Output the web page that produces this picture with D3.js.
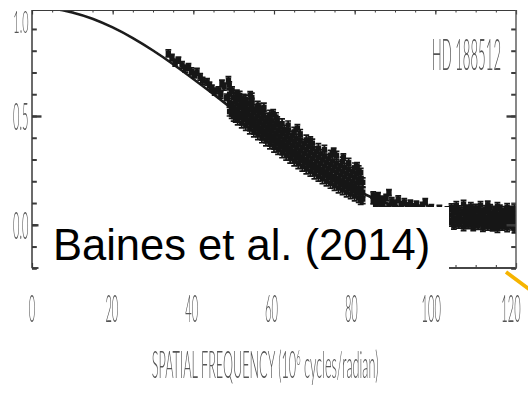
<!DOCTYPE html>
<html>
<head>
<meta charset="utf-8">
<script src="https://cdn.jsdelivr.net/npm/d3@7"></script>
<style>
  html, body { margin: 0; padding: 0; background: #fff; }
  svg { display: block; }
</style>
</head>
<body>
<svg id="chart" width="528" height="399"></svg>
<script>
// Uniform-disk fit: squared visibility every 5 x 10^6 cycles/radian
const modelFreq = [0, 5, 10, 15, 20, 25, 30, 35, 40, 45, 50, 55, 60, 65, 70, 75, 80, 85, 90, 95, 100, 105, 110, 115, 120];
const modelVis2 = [1.000, 0.994, 0.976, 0.947, 0.907, 0.858, 0.801, 0.738, 0.670, 0.600, 0.528, 0.457, 0.389, 0.324, 0.264, 0.210, 0.162, 0.120, 0.086, 0.058, 0.037, 0.021, 0.010, 0.003, 0.000];

// Isolated measurements: [spatial frequency, V^2, error]
const sparsePoints = [
  [33.8,0.788,0.016],[34.7,0.768,0.015],[35.5,0.745,0.016],[36.3,0.757,0.014],[37.2,0.735,0.015],
  [38.0,0.718,0.016],[38.8,0.726,0.015],[39.5,0.705,0.016],[40.3,0.690,0.015],[40.9,0.703,0.016],
  [41.7,0.680,0.015],[42.3,0.662,0.016],[43.4,0.657,0.015],[44.0,0.640,0.016],[44.6,0.627,0.015],
  [45.3,0.612,0.016],[46.2,0.619,0.015],[46.8,0.598,0.016],[47.1,0.650,0.015],[47.6,0.635,0.016],
  [48.2,0.586,0.015],[48.7,0.665,0.016],[48.9,0.642,0.015],[49.6,0.618,0.016],[50.8,0.604,0.015],
  [51.6,0.581,0.016],[52.4,0.558,0.015],[54.1,0.596,0.016],[54.5,0.566,0.015],[56.2,0.542,0.016],
  [57.0,0.528,0.015],[59.8,0.513,0.016],[60.8,0.481,0.015],[65.8,0.444,0.016],[69.0,0.389,0.015],
  [74.8,0.336,0.016],[77.2,0.311,0.015],[80.6,0.270,0.016]
];

// Densely sampled baselines: [spatial frequency, error, V^2 values]
const densePoints = [
  [49.0,0.020,[0.520,0.561,0.600]],
  [49.5,0.019,[0.508,0.548]],
  [50.0,0.021,[0.497,0.541,0.585]],
  [50.5,0.020,[0.492,0.530,0.566]],
  [51.0,0.021,[0.480,0.527,0.575]],
  [51.5,0.019,[0.502,0.548,0.594]],
  [52.0,0.022,[0.467,0.512,0.556]],
  [52.5,0.020,[0.483,0.530,0.579]],
  [53.0,0.021,[0.455,0.497,0.540,0.575]],
  [53.5,0.019,[0.470,0.516,0.560]],
  [54.0,0.022,[0.440,0.482,0.528]],
  [54.5,0.020,[0.458,0.503,0.549,0.585]],
  [55.0,0.021,[0.425,0.468,0.515]],
  [55.5,0.019,[0.441,0.487,0.533]],
  [56.0,0.022,[0.413,0.455,0.500,0.545]],
  [56.5,0.020,[0.430,0.474,0.520]],
  [57.0,0.021,[0.398,0.440,0.488]],
  [57.5,0.019,[0.414,0.459,0.505,0.540]],
  [58.0,0.022,[0.385,0.428,0.472]],
  [58.5,0.020,[0.401,0.447,0.492]],
  [59.0,0.021,[0.370,0.413,0.458,0.505]],
  [59.5,0.019,[0.388,0.432,0.478]],
  [60.0,0.022,[0.356,0.401,0.447]],
  [60.5,0.020,[0.372,0.418,0.462,0.495]],
  [61.0,0.021,[0.345,0.388,0.433]],
  [61.5,0.019,[0.361,0.405,0.452]],
  [62.0,0.022,[0.330,0.374,0.420,0.465]],
  [62.5,0.020,[0.348,0.392,0.437]],
  [63.0,0.021,[0.318,0.360,0.405]],
  [63.5,0.019,[0.335,0.380,0.424,0.458]],
  [64.0,0.022,[0.305,0.348,0.393]],
  [64.5,0.020,[0.322,0.366,0.410]],
  [65.0,0.021,[0.292,0.335,0.380,0.427]],
  [65.5,0.019,[0.310,0.354,0.398]],
  [66.0,0.022,[0.280,0.323,0.368]],
  [66.5,0.020,[0.296,0.340,0.385,0.418]],
  [67.0,0.021,[0.268,0.310,0.356]],
  [67.5,0.019,[0.285,0.328,0.373]],
  [68.0,0.022,[0.256,0.298,0.344,0.390]],
  [68.5,0.020,[0.272,0.317,0.360]],
  [69.0,0.021,[0.245,0.288,0.332]],
  [69.5,0.019,[0.261,0.305,0.350,0.375]],
  [70.0,0.022,[0.233,0.276,0.320]],
  [70.5,0.020,[0.250,0.293,0.338]],
  [71.0,0.021,[0.222,0.265,0.310,0.352]],
  [71.5,0.019,[0.238,0.282,0.326]],
  [72.0,0.022,[0.211,0.254,0.298]],
  [72.5,0.020,[0.228,0.270,0.315,0.345]],
  [73.0,0.021,[0.200,0.243,0.288]],
  [73.5,0.019,[0.216,0.260,0.303]],
  [74.0,0.022,[0.190,0.232,0.276,0.320]],
  [74.5,0.020,[0.206,0.250,0.293]],
  [75.0,0.021,[0.179,0.222,0.266]],
  [75.5,0.019,[0.196,0.240,0.283,0.318]],
  [76.0,0.022,[0.169,0.212,0.256]],
  [76.5,0.020,[0.185,0.229,0.273]],
  [77.0,0.021,[0.160,0.202,0.246,0.290]],
  [77.5,0.019,[0.176,0.220,0.263]],
  [78.0,0.022,[0.150,0.193,0.236]],
  [78.5,0.020,[0.166,0.210,0.254,0.285]],
  [79.0,0.021,[0.141,0.184,0.228]],
  [79.5,0.019,[0.157,0.200,0.245]],
  [80.0,0.022,[0.132,0.175,0.219,0.262]],
  [80.5,0.020,[0.148,0.192,0.236]],
  [81.0,0.021,[0.124,0.166,0.210,0.250]],
  [81.5,0.019,[0.113,0.158,0.202,0.240]],
  [82.0,0.021,[0.118,0.150,0.195]]
];

// Longer baselines beyond the dense group
const tailPoints = [
  [84.6,0.014,[0.110,0.137]],[85.2,0.015,[0.085,0.122]],[85.8,0.013,[0.100,0.135]],
  [86.5,0.015,[0.078,0.112]],[87.0,0.014,[0.095,0.118]],[87.8,0.015,[0.070,0.125]],
  [88.5,0.014,[0.085,0.148]],[89.2,0.015,[0.065,0.110]],[90.0,0.013,[0.075,0.100]],
  [90.8,0.015,[0.058,0.118]],[91.5,0.014,[0.070,0.092]],[92.3,0.015,[0.050,0.105]],
  [93.0,0.013,[0.062,0.088]],[93.8,0.015,[0.045,0.098]],[94.5,0.014,[0.055,0.082]],
  [95.3,0.015,[0.040,0.094]],[96.0,0.013,[0.050,0.078]],[96.8,0.015,[0.035,0.088]],
  [97.5,0.014,[0.045,0.106]],[98.3,0.015,[0.030,0.072]],[99.0,0.013,[0.040,0.080]],
  [100.0,0.015,[0.028,0.062]],[101.0,0.014,[0.035,0.075]],[102.0,0.015,[0.022,0.058]],
  [103.0,0.014,[0.030,0.068]]
];

const farPoints = [
  [104.0,0.016,[0.010,0.045,0.080]],[104.6,0.015,[-0.005,0.030,0.065]],[105.2,0.017,[0.020,0.055,0.090]],
  [105.8,0.015,[0.000,0.038,0.072]],[106.4,0.016,[0.015,0.050]],[107.0,0.017,[-0.010,0.025,0.062,0.095]],
  [107.6,0.015,[0.008,0.042,0.075]],[108.2,0.016,[-0.002,0.033,0.068]],[108.8,0.017,[0.018,0.052,0.085]],
  [109.4,0.015,[-0.012,0.022,0.058]],[110.0,0.016,[0.005,0.040,0.078]],[110.6,0.015,[-0.006,0.028,0.064]],
  [111.2,0.017,[0.012,0.048,0.090]],[111.8,0.015,[-0.015,0.020,0.055]],[112.4,0.016,[0.002,0.036,0.072]],
  [113.0,0.017,[-0.008,0.025,0.060,0.092]],[113.6,0.015,[0.010,0.045,0.078]],[114.2,0.016,[-0.012,0.018,0.052]],
  [114.8,0.015,[0.000,0.034,0.070]],[115.4,0.017,[-0.018,0.015,0.048,0.085]],[116.0,0.016,[0.006,0.040,0.074]],
  [116.6,0.015,[-0.010,0.022,0.056]],[117.2,0.016,[0.002,0.035,0.068]],[117.8,0.017,[-0.015,0.018,0.052,0.080]],
  [118.4,0.015,[0.004,0.038,0.070]],[119.0,0.016,[-0.008,0.025,0.058]],[119.6,0.017,[-0.020,0.012,0.045,0.075]],
  [120.0,0.015,[0.000,0.032]]
];

const xTickValues = [0, 20, 40, 60, 80, 100, 120];
const xMinorTicks = d3.range(0, 121, 5);
const yLabelValues = [0.0, 0.5, 1.0];
const yMajorTicks = [0.0, 0.5];
const yMinorTicks = [-0.2, -0.1, 0.0, 0.1, 0.2, 0.3, 0.4, 0.5, 0.6, 0.7, 0.8, 0.9];
const starName = "HD 188512";
const xTitleMain = "SPATIAL FREQUENCY (10";
const xTitleExp = "6";
const xTitleUnit = " cycles/radian)";
const citation = "Baines et al. (2014)";

// ---- layout ----
const frame = { left: 32, right: 516, top: 10, bottom: 267.5 };
const x = d3.scaleLinear().domain([0, 120]).range([frame.left, frame.right]);
const xLabelScale = d3.scaleLinear().domain([0, 120]).range([32, 511]);
const y = d3.scaleLinear().domain([-0.2, 1.0]).range([268.3, 7.2]);

const svg = d3.select("#chart");
const defs = svg.append("defs");
defs.append("clipPath").attr("id", "plotArea")
  .append("rect")
  .attr("x", frame.left).attr("y", frame.top)
  .attr("width", frame.right - frame.left).attr("height", frame.bottom - frame.top);
defs.append("filter").attr("id", "soft")
  .attr("x", "-5%").attr("y", "-5%").attr("width", "110%").attr("height", "110%")
  .append("feGaussianBlur").attr("stdDeviation", 0.45);

const fig = svg.append("g").attr("filter", "url(#soft)");

// Flatten measurements into one list of {f, v, e}
const measurements = [];
sparsePoints.forEach(([f, v, e]) => measurements.push({ f, v, e }));
[densePoints, tailPoints, farPoints].forEach(group =>
  group.forEach(([f, e, vals]) => vals.forEach(v => measurements.push({ f, v, e }))));

const plot = fig.append("g").attr("clip-path", "url(#plotArea)");

// Model curve
const curveData = modelFreq.map((f, i) => ({ f, v: modelVis2[i] }));
plot.append("path")
  .datum(curveData)
  .attr("fill", "none")
  .attr("stroke", "#1b1b1b")
  .attr("stroke-width", 2.6)
  .attr("d", d3.line().x(d => x(d.f)).y(d => y(d.v)).curve(d3.curveNatural));

// Measurements with error bars
const ink = "#181818";
const capHalf = 2.9;
const pts = plot.append("g").selectAll("g").data(measurements).join("g");
pts.append("line")
  .attr("x1", d => x(d.f)).attr("x2", d => x(d.f))
  .attr("y1", d => y(d.v - d.e)).attr("y2", d => y(d.v + d.e))
  .attr("stroke", ink).attr("stroke-width", 1.8);
pts.append("line")
  .attr("x1", d => x(d.f) - capHalf).attr("x2", d => x(d.f) + capHalf)
  .attr("y1", d => y(d.v + d.e)).attr("y2", d => y(d.v + d.e))
  .attr("stroke", ink).attr("stroke-width", 1.7);
pts.append("line")
  .attr("x1", d => x(d.f) - capHalf).attr("x2", d => x(d.f) + capHalf)
  .attr("y1", d => y(d.v - d.e)).attr("y2", d => y(d.v - d.e))
  .attr("stroke", ink).attr("stroke-width", 1.7);
pts.append("rect")
  .attr("x", d => x(d.f) - 2.7).attr("y", d => y(d.v) - 2.7)
  .attr("width", 5.4).attr("height", 5.4)
  .attr("fill", ink);

// ---- frame and ticks ----
const axisColor = "#3a3a3a";
function styleAxis(g, width) {
  g.select(".domain").attr("stroke", axisColor).attr("stroke-width", width);
  g.selectAll(".tick line").attr("stroke", axisColor);
  g.selectAll(".tick text").remove();
}
// top
fig.append("g").attr("transform", `translate(0,${frame.top})`)
  .call(d3.axisBottom(x).tickValues(xMinorTicks).tickSize(2.5).tickSizeOuter(0).tickFormat(""))
  .call(g => styleAxis(g, 1.1))
  .call(g => g.selectAll(".tick line").attr("stroke-width", 1));
fig.append("g").attr("transform", `translate(0,${frame.top})`)
  .call(d3.axisBottom(x).tickValues(xTickValues).tickSize(4.5).tickSizeOuter(0).tickFormat(""))
  .call(g => styleAxis(g, 1.1))
  .call(g => g.selectAll(".tick line").attr("stroke-width", 1.2));
// bottom
fig.append("g").attr("transform", `translate(0,${frame.bottom})`)
  .call(d3.axisTop(x).tickValues(xMinorTicks).tickSize(2.5).tickSizeOuter(0).tickFormat(""))
  .call(g => styleAxis(g, 1.6))
  .call(g => g.selectAll(".tick line").attr("stroke-width", 1));
fig.append("g").attr("transform", `translate(0,${frame.bottom})`)
  .call(d3.axisTop(x).tickValues(xTickValues).tickSize(4.5).tickSizeOuter(0).tickFormat(""))
  .call(g => styleAxis(g, 1.6))
  .call(g => g.selectAll(".tick line").attr("stroke-width", 1.2));

// left
fig.append("g").attr("transform", `translate(${frame.left},0)`)
  .call(d3.axisRight(y).tickValues(yMinorTicks).tickSize(4.8).tickSizeOuter(0).tickFormat(""))
  .call(g => { styleAxis(g, 1.4); g.select(".domain").remove(); })
  .call(g => g.selectAll(".tick line").attr("stroke-width", 2));
fig.append("g").attr("transform", `translate(${frame.left},0)`)
  .call(d3.axisRight(y).tickValues(yMajorTicks).tickSize(9.5).tickSizeOuter(0).tickFormat(""))
  .call(g => { styleAxis(g, 1.4); g.select(".domain").remove(); })
  .call(g => g.selectAll(".tick line").attr("stroke-width", 2.4));
// right
fig.append("g").attr("transform", `translate(${frame.right},0)`)
  .call(d3.axisLeft(y).tickValues(yMinorTicks).tickSize(4.8).tickSizeOuter(0).tickFormat(""))
  .call(g => { styleAxis(g, 1.4); g.select(".domain").remove(); })
  .call(g => g.selectAll(".tick line").attr("stroke-width", 2));
fig.append("g").attr("transform", `translate(${frame.right},0)`)
  .call(d3.axisLeft(y).tickValues(yMajorTicks).tickSize(9.5).tickSizeOuter(0).tickFormat(""))
  .call(g => { styleAxis(g, 1.4); g.select(".domain").remove(); })
  .call(g => g.selectAll(".tick line").attr("stroke-width", 2.4));
// vertical frame sides
fig.append("line").attr("x1", frame.left).attr("x2", frame.left)
  .attr("y1", frame.top).attr("y2", frame.bottom + 0.8)
  .attr("stroke", axisColor).attr("stroke-width", 1.5);
fig.append("line").attr("x1", frame.right).attr("x2", frame.right)
  .attr("y1", frame.top).attr("y2", frame.bottom + 0.8)
  .attr("stroke", "#555").attr("stroke-width", 1.4);

// ---- thin condensed labels ----
const labelFont = "Lato, 'DejaVu Sans', sans-serif";
const labelInk = "#555";
const squeeze = 0.3;
function thinText(parent, str, px, py, size, anchor, k) {
  return parent.append("text")
    .attr("transform", `translate(${px},${py}) scale(${k},1)`)
    .attr("text-anchor", anchor)
    .attr("font-family", labelFont)
    .attr("font-weight", 300)
    .attr("font-size", size)
    .attr("fill", labelInk)
    .text(str);
}
function fitWidth(sel, target) {
  const w = sel.node().getComputedTextLength();
  const t = sel.attr("transform").replace(/scale\([^)]*\)/, `scale(${target / w},1)`);
  sel.attr("transform", t);
}

// y tick labels; the topmost one sits just inside the frame
yLabelValues.forEach(v => {
  const atTop = y(v) < frame.top;
  const base = atTop ? 33 : y(v) + 14.2;
  thinText(fig, d3.format(".1f")(v), 28.5, base, atTop ? 32 : 37, "end", atTop ? 0.34 : squeeze);
});
// x tick labels
xTickValues.forEach(v => {
  thinText(fig, String(v), xLabelScale(v), 322, 37, "middle", squeeze);
});
// axis title with superscript
const title = fig.append("text")
  .attr("transform", "translate(151.7,378.3) scale(0.3,1)")
  .attr("font-family", labelFont).attr("font-weight", 300)
  .attr("font-size", 37).attr("fill", labelInk);
title.append("tspan").text(xTitleMain);
title.append("tspan").attr("dy", -13).attr("font-size", 22).text(xTitleExp);
title.append("tspan").attr("dy", 13).text(xTitleUnit);
fitWidth(title, 226.7);

// star label
const star = thinText(fig, starName, 431.7, 70, 44, "start", squeeze);
fitWidth(star, 69.3);

// ---- citation panel ----
svg.append("rect")
  .attr("x", 38.5).attr("y", 207)
  .attr("width", 449 - 38.5).attr("height", 73)
  .attr("fill", "#fff");
svg.append("text")
  .attr("x", 53).attr("y", 260)
  .attr("font-family", "'Liberation Sans', Arial, Helvetica, sans-serif")
  .attr("font-size", 43.5)
  .attr("fill", "#000")
  .text(citation);

// pointer stroke entering from the lower right
svg.append("line")
  .attr("x1", 506).attr("y1", 272)
  .attr("x2", 545).attr("y2", 301)
  .attr("stroke", "#F6B400").attr("stroke-width", 3.8);
</script>
</body>
</html>
